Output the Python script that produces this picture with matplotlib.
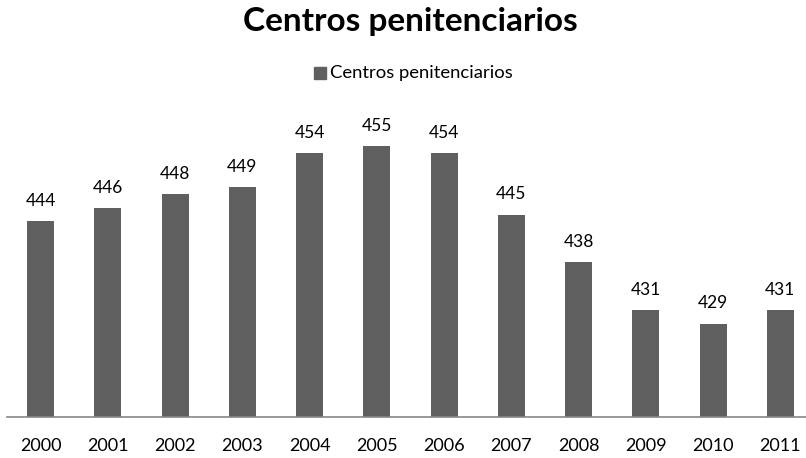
import matplotlib.pyplot as plt
import numpy as np

years = ["2000", "2001", "2002", "2003", "2004", "2005",
         "2006", "2007", "2008", "2009", "2010", "2011"]
centros = [444, 446, 448, 449, 454, 455, 454, 445, 438, 431, 429, 431]

plt.rcParams['font.family'] = ['Lato', 'DejaVu Sans']

W, H = 806, 458
fig = plt.figure(figsize=(W / 100, H / 100), dpi=100)

# axes placed in pixel terms: baseline at y=417, left at x=7
left, right, top, bottom = 7, 814, 100, 417
ax = fig.add_axes([left / W, (H - bottom) / H, (right - left) / W, (bottom - top) / H])

x = np.arange(len(years))
ax.bar(x, centros, width=0.40, color="#5f5f5f", zorder=2)
ax.set_xlim(-0.5, len(years) - 0.5)
ax.set_ylim(415.3, 461.8)

for xi, v in zip(x, centros):
    ax.annotate(str(v), (xi, v), xytext=(0, 14.5), textcoords="offset points",
                ha="center", va="center", fontsize=12.5)

ax.set_xticks(x)
ax.set_xticklabels(years, fontsize=13)
ax.tick_params(axis="x", length=0, pad=15)
ax.set_yticks([])
for s in ["top", "right", "left"]:
    ax.spines[s].set_visible(False)
ax.spines["bottom"].set_color("#868686")
ax.spines["bottom"].set_linewidth(1.2)

fig.text(410 / W, 1 - 22 / H, "Centros penitenciarios", ha="center", va="center",
         fontsize=24, fontweight="bold")

# legend
fig.patches.append(plt.Rectangle((314 / W, 1 - 79 / H), 12 / W, 12 / H,
                                  transform=fig.transFigure, color="#5f5f5f"))
fig.text(330 / W, 1 - 73 / H, "Centros penitenciarios", ha="left", va="center",
         fontsize=13.3)

fig.savefig("out.png", dpi=100)
